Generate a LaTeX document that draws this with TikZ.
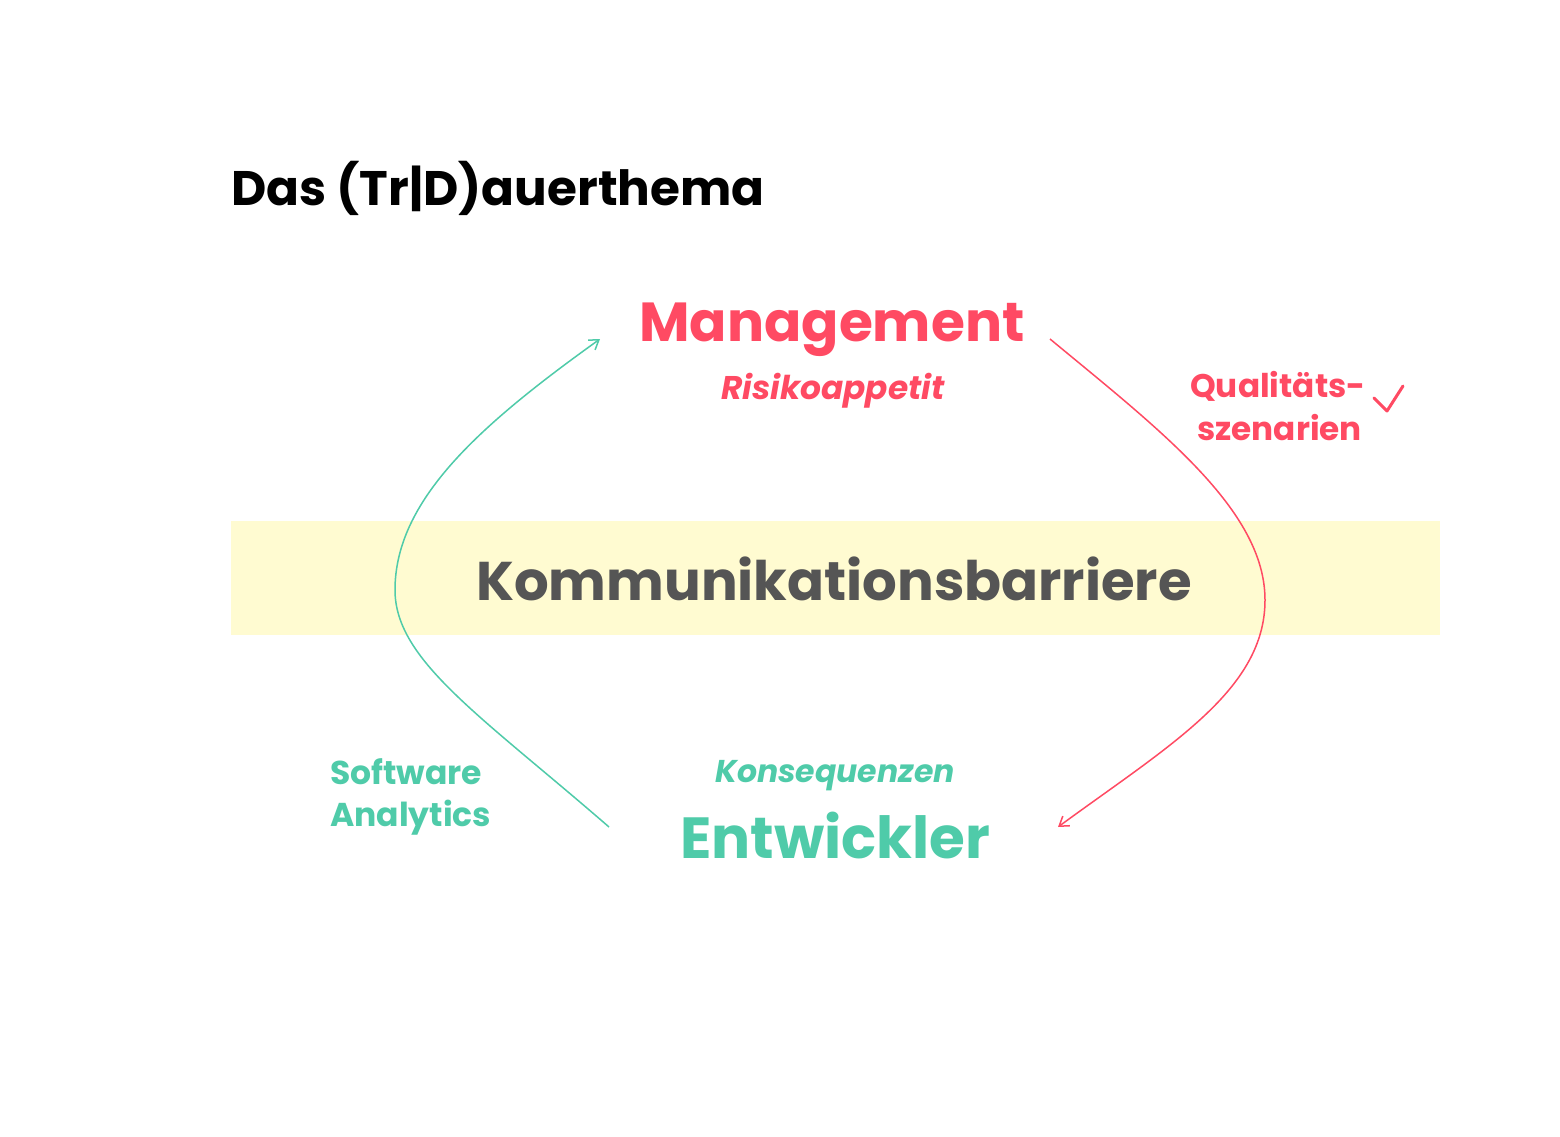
\documentclass[tikz,border=0pt]{standalone}
\usepackage{fontspec}
\setmainfont{Poppins}
\usetikzlibrary{arrows.meta}
\definecolor{mred}{HTML}{FF4A63}
\definecolor{mgreen}{HTML}{4FCBA9}
\definecolor{mgrey}{HTML}{555555}
\definecolor{band}{HTML}{FFFBD1}
\tikzset{
  lbl/.style={inner sep=0pt, font=\bfseries},
  flow/.style={line width=1.5pt, -{Straight Barb[length=9pt,width=12pt]}},
}
\begin{document}
\begin{tikzpicture}[x=1pt,y=-1pt]
\useasboundingbox (0,0) rectangle (1560,1137);
\fill[white] (0,0) rectangle (1560,1137);
\node[fill=band, inner sep=0pt, minimum width=1209pt, minimum height=114pt, anchor=north west] (bar) at (231,521) {};
\node[lbl, anchor=base west, font=\fontsize{48.5}{52}\selectfont\bfseries] (title) at (231,205) {Das (Tr|D)auerthema};
\node[lbl, anchor=base, text=mred, font=\fontsize{55}{60}\selectfont\bfseries] (mgmt) at (832,341) {Management};
\node[lbl, anchor=base, text=mred, font=\fontsize{32.8}{36}\selectfont\bfseries\itshape] (risk) at (833,399) {Risikoappetit};
\node[lbl, anchor=base west, text=mred, font=\fontsize{32.7}{36}\selectfont\bfseries] (q1) at (1190,397) {Qualitäts-};
\node[lbl, anchor=base west, text=mred, font=\fontsize{32.7}{36}\selectfont\bfseries] (q2) at (1197,440) {szenarien};
\node[lbl, anchor=base, text=mgrey, font=\fontsize{54.5}{60}\selectfont\bfseries] (komm) at (834,600) {Kommunikationsbarriere};
\node[lbl, anchor=base, text=mgreen, font=\fontsize{31.5}{36}\selectfont\bfseries\itshape] (kons) at (835,782) {Konsequenzen};
\node[lbl, anchor=base, text=mgreen, font=\fontsize{58}{62}\selectfont\bfseries] (entw) at (835,858) {Entwickler};
\node[lbl, anchor=base west, text=mgreen, font=\fontsize{33}{36}\selectfont\bfseries] (sw1) at (330,784) {Software};
\node[lbl, anchor=base west, text=mgreen, font=\fontsize{33}{36}\selectfont\bfseries] (sw2) at (330,826) {Analytics};
\coordinate (gs) at (609,827);
\coordinate (gm) at (395,590);
\coordinate (ge) at (600,339);
\coordinate (rs) at (1050,339);
\coordinate (rm) at (1265,600);
\coordinate (re) at (1058,827);
\draw[flow, mgreen] (gs) .. controls (480,715) and (395,660) .. (gm) .. controls (395,500) and (480,425) .. (ge);
\draw[flow, mred] (rs) .. controls (1160,430) and (1265,510) .. (rm) .. controls (1265,690) and (1170,745) .. (re);
\coordinate (c1) at (1374,398);
\coordinate (c2) at (1387,411);
\coordinate (c3) at (1403,386);
\draw[mred, line width=3pt, line cap=round, line join=round] (c1) -- (c2) -- (c3);
\end{tikzpicture}
\end{document}
